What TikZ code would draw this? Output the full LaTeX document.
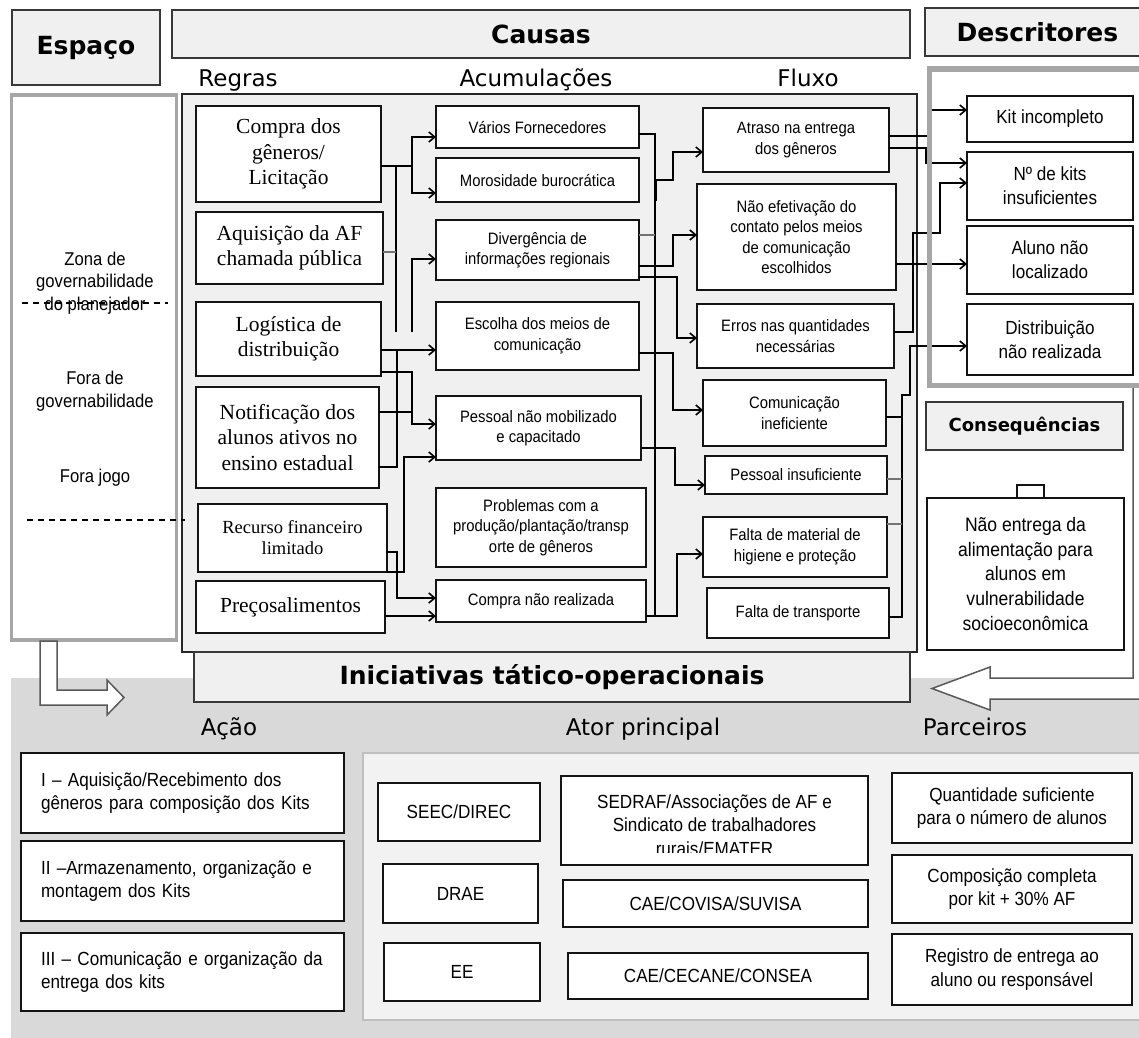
\documentclass[tikz,border=0pt]{standalone}
\usepackage{fontspec}
\setmainfont{Liberation Serif}
\newfontfamily\ars[FakeStretch=0.9]{Liberation Sans}
\newfontfamily\dvs{DejaVu Sans}
\usetikzlibrary{arrows.meta}
\newcommand\mybox[7]{\node[#6, minimum width={#4-#2}, minimum height={#5-#3}] (#1) at ({(#2+#4)/2},{(#3+#5)/2}) {#7};}
\tikzset{
 every node/.style={inner sep=0pt, outer sep=0pt},
 hdr/.style={draw=black!78, fill=black!6, line width=1.8pt, font=\dvs\bfseries\fontsize{25}{30}\selectfont},
 sublbl/.style={font=\dvs\fontsize{23}{28}\selectfont, anchor=base},
 rbox/.style={draw=black!92, fill=white, line width=1.8pt, align=center, font=\fontsize{21.5}{25.5}\selectfont},
 abox/.style={draw=black!92, fill=white, line width=1.8pt, align=center, font=\ars\fontsize{16.5}{20.5}\selectfont},
 dbox/.style={draw=black!92, fill=white, line width=1.8pt, align=center, font=\ars\fontsize{19}{24}\selectfont},
 bbox/.style={draw=black!92, fill=white, line width=1.8pt, align=left, text width=283pt, inner xsep=20pt, font=\ars\fontsize{19}{23.5}\selectfont},
 cbox/.style={draw=black!92, fill=white, line width=1.8pt, align=center, font=\ars\fontsize{19}{23.5}\selectfont},
 side/.style={align=center, font=\ars\fontsize{18.5}{22.5}\selectfont},
 ln/.style={draw=black, line width=1.6pt},
 gln/.style={draw=black!55, line width=1.8pt},
 ar/.style={ln, -{Straight Barb[length=6pt,width=10pt]}},
 hollow/.style={draw=black!65, fill=white, line width=1.5pt, line join=miter},
}
\begin{document}
\begin{tikzpicture}[x=1pt,y=-1pt]
\useasboundingbox (0,0) rectangle (1139,1037);
% background regions
\fill[black!15] (11,678) rectangle (1150,1045);
\draw[line width=2pt, draw=black!25, fill=black!5] (363,753) rectangle (1150,1020);
\draw[line width=3.5pt, draw=black!35, fill=white] (11.5,95) rectangle (176.5,640);
\draw[line width=1.5pt, draw=black!85, fill=black!6] (182,94) rectangle (917,652);
\fill[white] (929.7,69) rectangle (1150,385.5);
% hollow arrows
\draw[hollow] (40,641) -- (57,641) -- (57,690) -- (107,690) -- (107,680) -- (124,697.5) -- (107,715) -- (107,705) -- (40,705) -- cycle;
\draw[hollow] (1133,387) -- (1133,678) -- (990,678) -- (990,667) -- (932,688.5) -- (990,710) -- (990,699) -- (1150,699) -- (1150,387) -- cycle;
% headers
\mybox{hesp}{12}{10}{160}{85}{hdr}{Espaço}
\mybox{hcau}{172}{10}{910}{58}{hdr}{Causas}
\mybox{hdes}{925}{8}{1150}{56}{hdr}{Descritores}
\mybox{hcon}{926}{402}{1123}{450}{hdr,font=\dvs\bfseries\fontsize{18}{22}\selectfont}{Consequências}
\mybox{hini}{194}{652}{910}{702}{hdr}{Iniciativas tático-operacionais}
% sub labels
\node[sublbl] (lreg) at (238,86) {Regras};
\node[sublbl] (lacu) at (536,86) {Acumulações};
\node[sublbl] (lflu) at (808,86) {Fluxo};
\node[sublbl] (lacao) at (229,735) {Ação};
\node[sublbl] (lator) at (643,735) {Ator principal};
\node[sublbl] (lparc) at (975,735) {Parceiros};
% left panel
\node[side] (zona) at (95,283) {Zona de\\governabilidade\\do planejador};
\draw[line width=1.2pt, dash pattern=on 6pt off 5pt] (22,303) -- (168,303);
\node[side] (fora) at (95,391) {Fora de\\governabilidade};
\node[side] (jogo) at (95,478) {Fora jogo};
\draw[line width=1.2pt, dash pattern=on 6pt off 5pt] (27,520) -- (185,520);
% Regras
\mybox{rcompra}{196}{106}{381}{202}{rbox}{Compra dos\\gêneros/\\Licitação}
\mybox{raquis}{196}{212}{383}{284}{rbox}{Aquisição da AF\\chamada pública}
\mybox{rlog}{196}{302}{381}{376}{rbox}{Logística de\\distribuição}
\mybox{rnotif}{196}{387}{379}{488}{rbox}{Notificação dos\\alunos ativos no\\ensino estadual}
\mybox{rrec}{198}{504}{387}{572}{rbox,font=\fontsize{18.5}{21}\selectfont}{Recurso financeiro\\limitado}
\mybox{rprec}{196}{581}{385}{633}{rbox}{Preçosalimentos}
% Acumulacoes
\mybox{avar}{436}{106}{639}{148}{abox}{Vários Fornecedores}
\mybox{amor}{436}{158}{639}{202}{abox}{Morosidade burocrática}
\mybox{adiv}{436}{220}{639}{280}{abox}{Divergência de\\informações regionais}
\mybox{aesc}{436}{302}{639}{370}{abox}{Escolha dos meios de\\comunicação}
\mybox{apes}{436}{396}{641}{460}{abox}{Pessoal não mobilizado\\e capacitado}
\mybox{aprob}{436}{488}{646}{567}{abox}{Problemas com a\\produção/plantação/transp\\orte de gêneros}
\mybox{acomp}{436}{580}{646}{622}{abox}{Compra não realizada}
% Fluxo
\mybox{fatr}{703}{108}{889}{172}{abox}{Atraso na entrega\\dos gêneros}
\mybox{fnao}{697}{184}{896}{290}{abox}{Não efetivação do\\contato pelos meios\\de comunicação\\escolhidos}
\mybox{ferr}{697}{304}{894}{368}{abox}{Erros nas quantidades\\necessárias}
\mybox{fcom}{703}{380}{886}{446}{abox}{Comunicação\\ineficiente}
\mybox{fpes}{705}{456}{887}{494}{abox}{Pessoal insuficiente}
\mybox{ffal}{703}{517}{887}{577}{abox}{Falta de material de\\higiene e proteção}
\mybox{ftra}{707}{588}{889}{638}{abox}{Falta de transporte}
% Descritores
\mybox{dkit}{967}{96}{1133}{142}{dbox}{Kit incompleto}
\mybox{dnum}{967}{152}{1133}{220}{dbox}{Nº de kits\\insuficientes}
\mybox{dalu}{967}{226}{1133}{294}{dbox}{Aluno não\\localizado}
\mybox{ddis}{967}{304}{1133}{375}{dbox}{Distribuição\\não realizada}
% Consequencias
\mybox{tab}{1017}{485}{1044}{498}{dbox}{}
\mybox{cnao}{927}{498}{1124}{650}{dbox,font=\ars\fontsize{19.5}{24.7}\selectfont}{Não entrega da\\alimentação para\\alunos em\\vulnerabilidade\\socioeconômica}
% Acao
\mybox{b1}{21}{753}{344}{833}{bbox}{I – Aquisição/Recebimento dos\\gêneros para composição dos Kits}
\mybox{b2}{21}{841}{344}{921}{bbox}{II –Armazenamento, organização e\\montagem dos Kits}
\mybox{b3}{21}{933}{344}{1011}{bbox}{III – Comunicação e organização da\\entrega dos kits}
% Ator principal
\mybox{c1}{378}{783}{540}{841}{cbox}{SEEC/DIREC}
\mybox{c2}{383}{864}{538}{923}{cbox}{DRAE}
\mybox{c3}{384}{943}{540}{1001}{cbox}{EE}
\mybox{s1}{561}{776}{868}{865}{cbox}{}
\begin{scope}
\clip (561,776) rectangle (868,852);
\node[cbox,draw=none,fill=none,anchor=base] (s1txt) at (714.5,855) {SEDRAF/Associações de AF e\\Sindicato de trabalhadores\\rurais/EMATER};
\end{scope}
\mybox{s2}{563}{880}{868}{927}{cbox}{CAE/COVISA/SUVISA}
\mybox{s3}{568}{953}{868}{999}{cbox}{CAE/CECANE/CONSEA}
% Parceiros
\mybox{p1}{892}{773}{1132}{843}{cbox}{Quantidade suficiente\\para o número de alunos}
\mybox{p2}{892}{855}{1132}{923}{cbox}{Composição completa\\por kit + 30\% AF}
\mybox{p3}{892}{934}{1132}{1005}{cbox}{Registro de entrega ao\\aluno ou responsável}
% connectors Regras -> Acumulacoes
\draw[ln] (rcompra.east|-0,166) -- (412,166);
\draw[ar] (412,166) |- (avar.west|-0,137);
\draw[ar] (412,166) |- (amor.west|-0,193);
\draw[ln] (396,166) -- (396,332);
\draw[gln] (raquis.east|-0,252) -- (396,252);
\draw[ar] (412,332) |- (adiv.west|-0,259);
\draw[ar] (rlog.east|-0,350) -- (aesc.west|-0,350);
\draw[ln] (397,350) -- (397,467) -- (rnotif.east|-0,467);
\draw[ar] (rlog.east|-0,372) -| (412,424) -- (apes.west|-0,424);
\draw[ln] (rnotif.east|-0,412) -- (412,412);
\draw[ar] (rrec.south east) -- (404,572) |- (apes.west|-0,457);
\draw[ar] (rrec.east|-0,552) -| (397,598) -- (acomp.west|-0,598);
\draw[ar] (rprec.east|-0,616) -- (acomp.west|-0,616);
% Acumulacoes -> Fluxo
\draw[ln] (avar.east|-0,134) -- (655,134) -- (655,616);
\draw[line width=3pt] (655,179) -- (655,201);
\draw[ar] (655,180) -- (673,180) |- (fatr.west|-0,152);
\draw[gln] (adiv.east|-0,235) -- (655,235);
\draw[ar] (adiv.east|-0,266) -- (673,266) |- (fnao.west|-0,235);
\draw[ar] (adiv.east|-0,277) -- (677,277) |- (ferr.west|-0,338);
\draw[ar] (aesc.east|-0,353) -- (673,353) |- (fcom.west|-0,410);
\draw[ar] (apes.east|-0,448) -- (675,448) |- (fpes.west|-0,485);
\draw[ar] (acomp.east|-0,616) -- (677,616) |- (ffal.west|-0,554);
% Fluxo -> Descritores
\draw[ar] (fatr.east|-0,136) -- (929,136) |- (dkit.west|-0,110);
\draw[ar] (fatr.east|-0,148) -- (926,148) |- (dnum.west|-0,163);
\draw[ar] (ferr.east|-0,332) -- (913,332) |- (940,233) |- (dnum.west|-0,183);
\draw[ar] (fnao.east|-0,264) -- (dalu.west|-0,264);
\draw[ar] (ftra.east|-0,617) -- (902,617) -- (902,395) -- (910,395) |- (ddis.west|-0,346);
\draw[ln] (fcom.east|-0,417) -- (902,417);
\draw[gln] (fpes.east|-0,479) -- (902,479);
\draw[gln] (ffal.east|-0,524) -- (902,524);
% Descritores panel border on top
\draw[line width=5.5pt, draw=black!35] (929.7,69) rectangle (1150,385.5);
\end{tikzpicture}
\end{document}
